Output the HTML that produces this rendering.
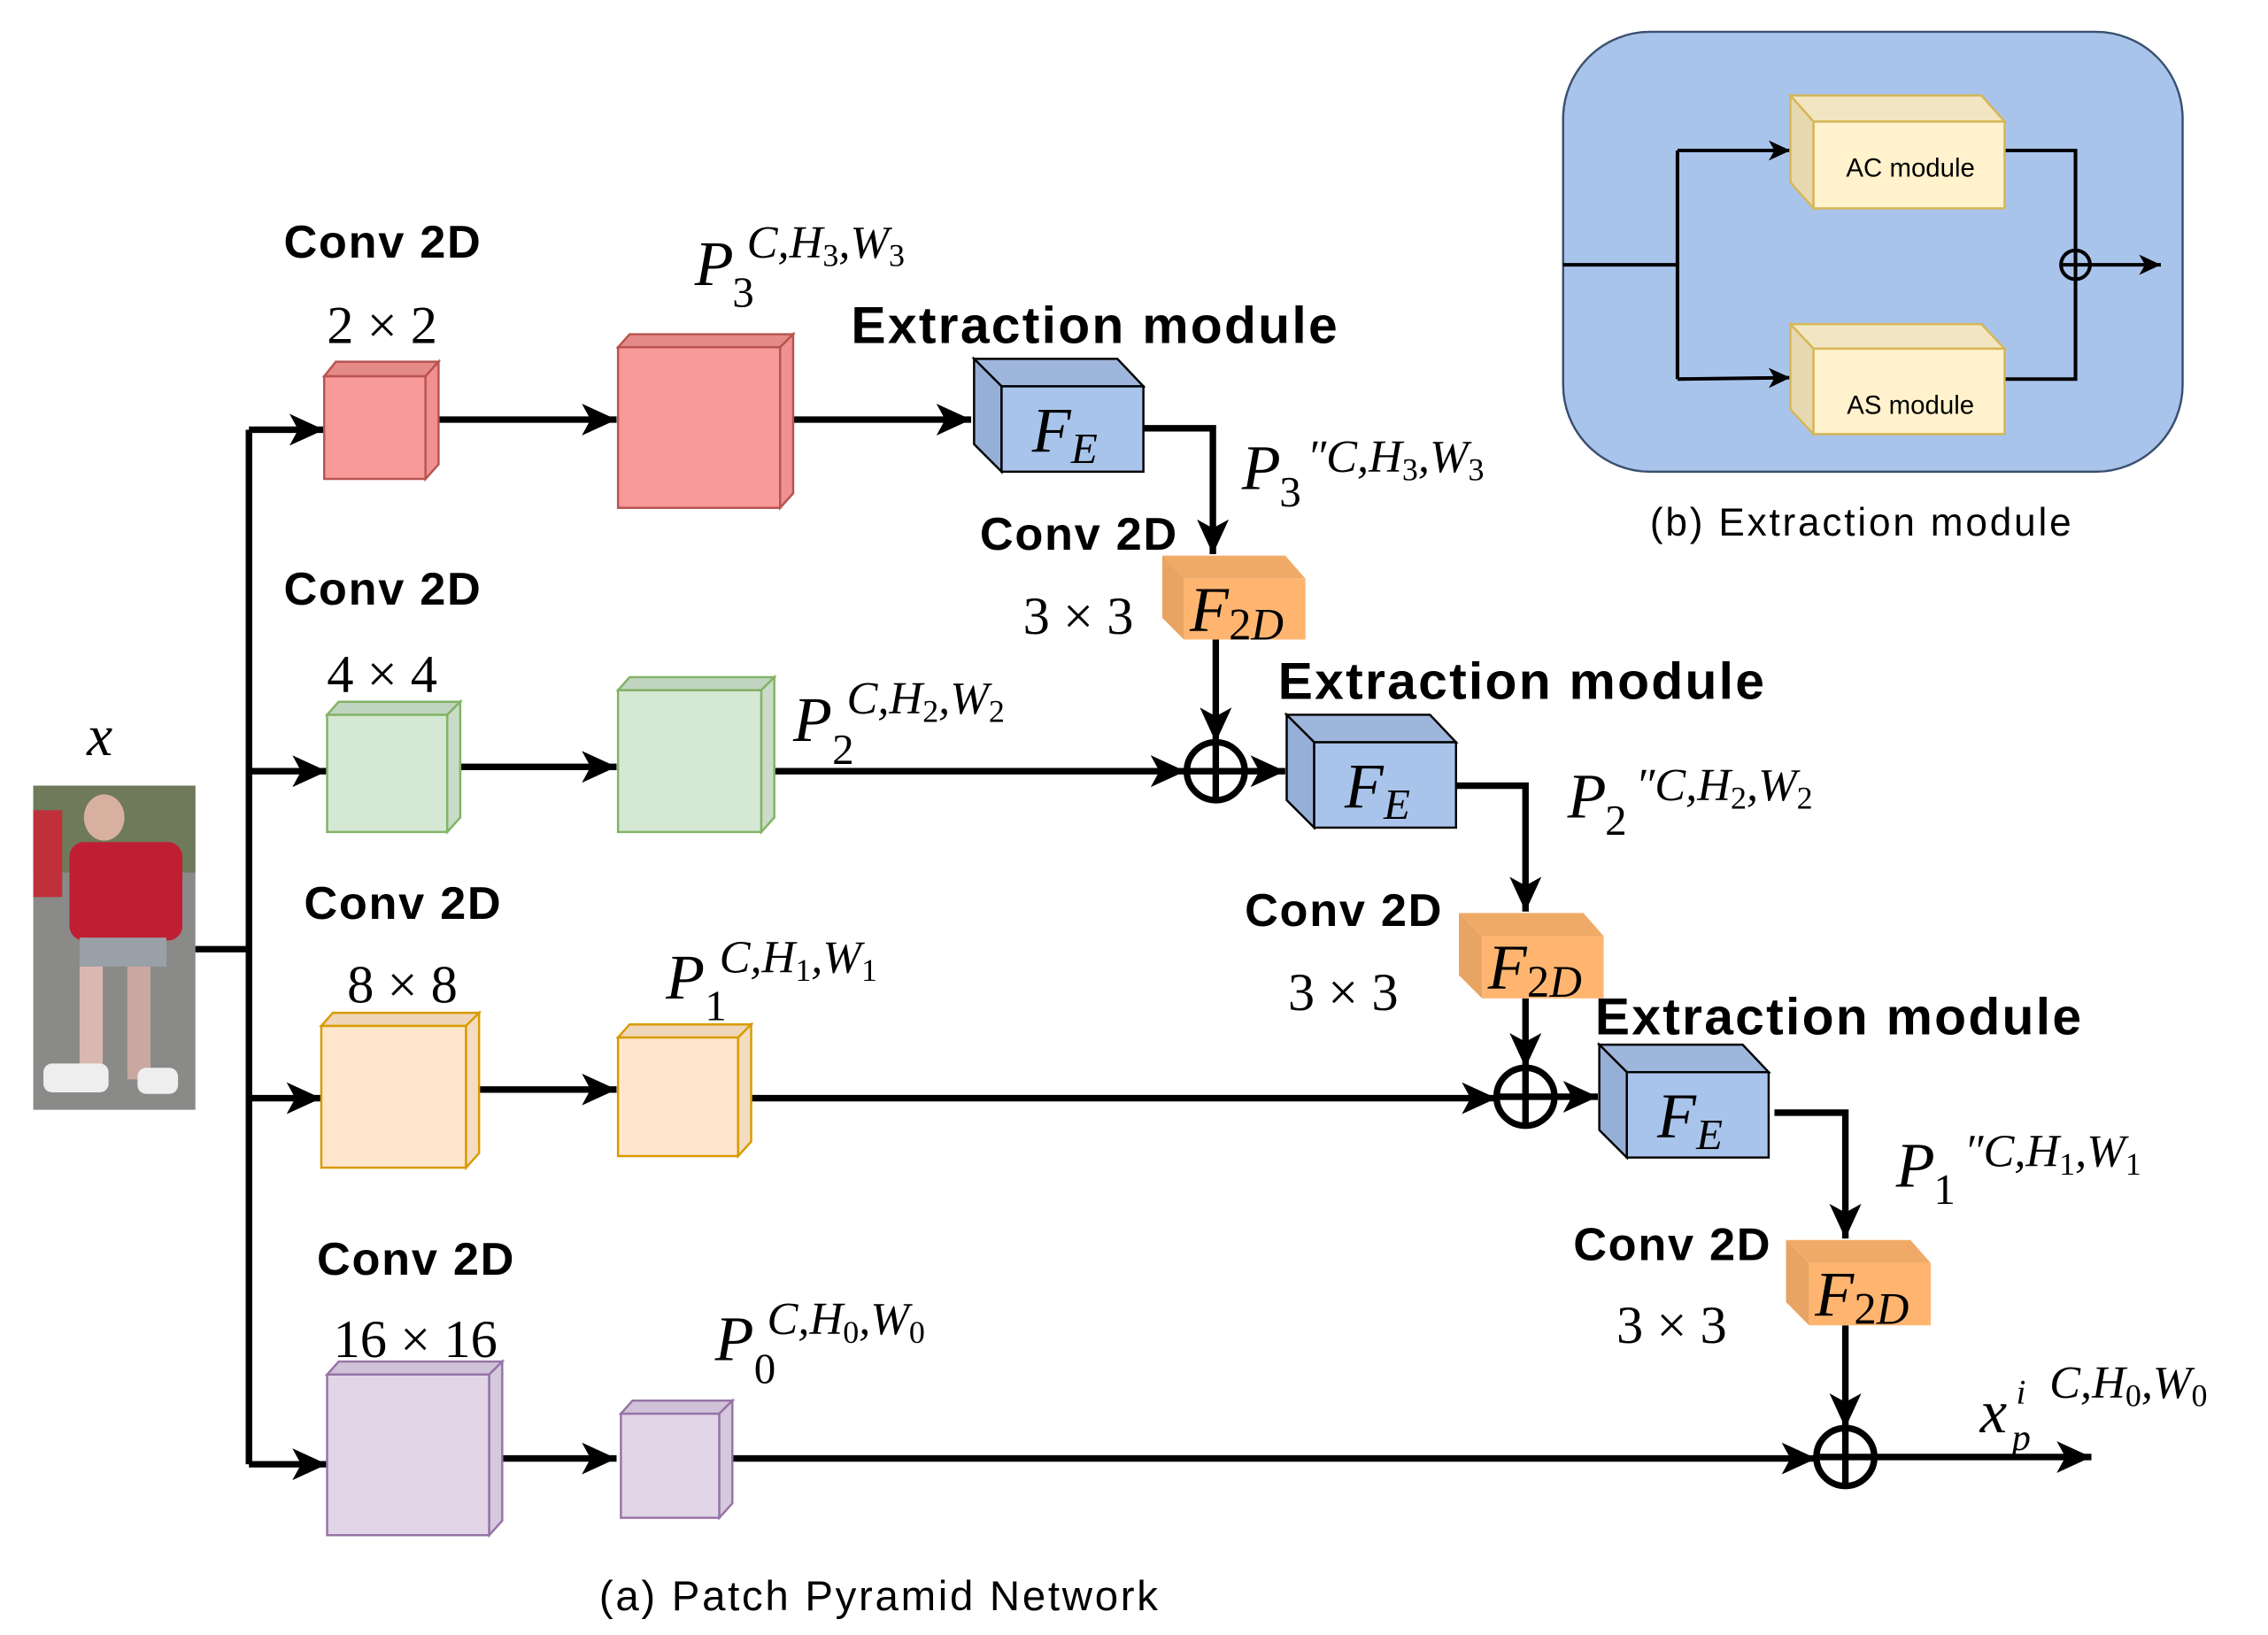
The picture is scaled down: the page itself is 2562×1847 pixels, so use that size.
<!DOCTYPE html>
<html><head><meta charset="utf-8"><style>html,body{margin:0;padding:0;background:#fff}svg{display:block}
.b{font-family:"Liberation Sans",sans-serif;font-weight:bold;font-size:32px}
.m{font-family:"Liberation Serif",serif;font-size:37px}
.i{font-family:"Liberation Serif",serif;font-style:italic}
.r{font-family:"Liberation Sans",sans-serif}
</style></head><body>
<svg width="2562" height="1847" viewBox="0 0 1567 1130" preserveAspectRatio="none" xmlns="http://www.w3.org/2000/svg">
<defs>
<marker id="a" markerUnits="userSpaceOnUse" markerWidth="26" markerHeight="22" refX="24" refY="11" orient="auto"><path d="M0,0 L24,11 L0,22 L6,11 z" fill="#000"/></marker>
<marker id="s" markerUnits="userSpaceOnUse" markerWidth="16" markerHeight="14" refX="15" refY="7" orient="auto"><path d="M0,0 L15,7 L0,14 L4,7 z" fill="#000"/></marker>
</defs>
<rect x="23" y="543" width="112" height="224" fill="#8a8a88"/>
<rect x="23" y="543" width="112" height="60" fill="#6e7a5a"/>
<rect x="23" y="560" width="20" height="60" fill="#c0303a"/>
<rect x="48" y="582" width="78" height="68" fill="#c01e32" rx="10"/>
<ellipse cx="72" cy="565" rx="14" ry="16" fill="#d8b0a0"/>
<rect x="55" y="648" width="60" height="20" fill="#9aa0a8"/>
<rect x="55" y="668" width="16" height="80" fill="#d8b8b0"/>
<rect x="88" y="668" width="16" height="78" fill="#c8a8a0"/>
<rect x="30" y="735" width="45" height="20" fill="#eee" rx="6"/>
<rect x="95" y="738" width="28" height="18" fill="#eee" rx="6"/>
<g stroke="#000" stroke-width="4.5" fill="none">
<polyline points="135,656 172,656"/>
<polyline points="172,297 172,1012"/>
<line x1="172" y1="297" x2="224" y2="297" marker-end="url(#a)"/>
<line x1="172" y1="533" x2="226" y2="533" marker-end="url(#a)"/>
<line x1="172" y1="759" x2="222" y2="759" marker-end="url(#a)"/>
<line x1="172" y1="1012" x2="226" y2="1012" marker-end="url(#a)"/>
<line x1="303" y1="290" x2="426" y2="290" marker-end="url(#a)"/>
<line x1="548" y1="290" x2="671" y2="290" marker-end="url(#a)"/>
<polyline points="790,296 838,296 838,383" marker-end="url(#a)"/>
<line x1="840" y1="442" x2="840" y2="513" marker-end="url(#a)"/>
<line x1="318" y1="530" x2="426" y2="530" marker-end="url(#a)"/>
<line x1="535" y1="533" x2="819" y2="533" marker-end="url(#a)"/>
<line x1="860" y1="533" x2="888" y2="533" marker-end="url(#a)"/>
<polyline points="1006,543 1054,543 1054,630" marker-end="url(#a)"/>
<line x1="1054" y1="690" x2="1054" y2="738" marker-end="url(#a)"/>
<line x1="331" y1="753" x2="426" y2="753" marker-end="url(#a)"/>
<line x1="519" y1="759" x2="1034" y2="759" marker-end="url(#a)"/>
<line x1="1074" y1="758" x2="1104" y2="758" marker-end="url(#a)"/>
<polyline points="1226,769 1275,769 1275,856" marker-end="url(#a)"/>
<line x1="1275" y1="916" x2="1275" y2="987" marker-end="url(#a)"/>
<line x1="347" y1="1008" x2="426" y2="1008" marker-end="url(#a)"/>
<line x1="506" y1="1008" x2="1255" y2="1008" marker-end="url(#a)"/>
<line x1="1295" y1="1007" x2="1445" y2="1007" marker-end="url(#a)"/>
<circle cx="840" cy="533" r="20"/><line x1="820" y1="533" x2="860" y2="533"/><line x1="840" y1="513" x2="840" y2="553"/>
<circle cx="1054" cy="758" r="20"/><line x1="1034" y1="758" x2="1074" y2="758"/><line x1="1054" y1="738" x2="1054" y2="778"/>
<circle cx="1275" cy="1007" r="20"/><line x1="1255" y1="1007" x2="1295" y2="1007"/><line x1="1275" y1="987" x2="1275" y2="1027"/>
</g>
<g stroke-width="1.5">
<g stroke="#b85450"><rect x="224" y="260" width="70" height="71" fill="#f99a9a"/><polygon points="224,260 232,250 303,250 294,260" fill="#e48a87"/><polygon points="294,260 303,250 303,321 294,331" fill="#f09090"/>
<rect x="427" y="240" width="112" height="111" fill="#f99a9a"/><polygon points="427,240 435,231 548,231 539,240" fill="#e48a87"/><polygon points="539,240 548,231 548,341 539,351" fill="#f09090"/></g>
<g stroke="#82b366"><rect x="226" y="494" width="83" height="81" fill="#d5e8d4"/><polygon points="226,494 234,485 318,485 309,494" fill="#c0d4bf"/><polygon points="309,494 318,485 318,565 309,575" fill="#c8dcc7"/>
<rect x="427" y="477" width="99" height="98" fill="#d5e8d4"/><polygon points="427,477 435,468 535,468 526,477" fill="#c0d4bf"/><polygon points="526,477 535,468 535,565 526,575" fill="#c8dcc7"/></g>
<g stroke="#d79b00"><rect x="222" y="709" width="100" height="98" fill="#ffe6cc"/><polygon points="222,709 230,700 331,700 322,709" fill="#f0d6b8"/><polygon points="322,709 331,700 331,797 322,807" fill="#f5dcc0"/>
<rect x="427" y="717" width="83" height="82" fill="#ffe6cc"/><polygon points="427,717 435,708 519,708 510,717" fill="#f0d6b8"/><polygon points="510,717 519,708 519,789 510,799" fill="#f5dcc0"/></g>
<g stroke="#9673a6"><rect x="226" y="950" width="112" height="111" fill="#e1d5e7"/><polygon points="226,950 234,941 347,941 338,950" fill="#d0c2d8"/><polygon points="338,950 347,941 347,1051 338,1061" fill="#d6c8dd"/>
<rect x="429" y="977" width="68" height="72" fill="#e1d5e7"/><polygon points="429,977 437,968 506,968 497,977" fill="#d0c2d8"/><polygon points="497,977 506,968 506,1039 497,1049" fill="#d6c8dd"/></g>
<g stroke="#000" stroke-width="1.5">
<polygon points="673,248 772,248 790,267 692,267" fill="#9fb6dc"/><polygon points="673,248 692,267 692,326 673,307" fill="#96afd6"/><rect x="692" y="267" width="98" height="59" fill="#a9c4eb"/>
<polygon points="889,494 988,494 1006,513 908,513" fill="#9fb6dc"/><polygon points="889,494 908,513 908,572 889,553" fill="#96afd6"/><rect x="908" y="513" width="98" height="59" fill="#a9c4eb"/>
<polygon points="1105,722 1204,722 1222,741 1124,741" fill="#9fb6dc"/><polygon points="1105,722 1124,741 1124,800 1105,781" fill="#96afd6"/><rect x="1124" y="741" width="98" height="59" fill="#a9c4eb"/>
</g>
<g stroke="none">
<polygon points="803,384 888,384 902,400 818,400" fill="#f0aa68"/><polygon points="803,384 818,400 818,442 803,427" fill="#e8a462"/><rect x="818" y="400" width="84" height="42" fill="#ffb570"/>
<polygon points="1008,631 1094,631 1108,647 1024,647" fill="#f0aa68"/><polygon points="1008,631 1024,647 1024,690 1008,674" fill="#e8a462"/><rect x="1024" y="647" width="84" height="43" fill="#ffb570"/>
<polygon points="1234,857 1320,857 1334,873 1250,873" fill="#f0aa68"/><polygon points="1234,857 1250,873 1250,916 1234,900" fill="#e8a462"/><rect x="1250" y="873" width="84" height="43" fill="#ffb570"/>
</g>
</g>
<g class="b">
<text x="196" y="178" textLength="136">Conv 2D</text><text x="196" y="418" textLength="136">Conv 2D</text><text x="210" y="635" textLength="136">Conv 2D</text><text x="219" y="881" textLength="136">Conv 2D</text>
<text x="677" y="380" textLength="136">Conv 2D</text><text x="860" y="640" textLength="136">Conv 2D</text><text x="1087" y="871" textLength="136">Conv 2D</text>
</g>
<g class="m" text-anchor="middle">
<text x="264" y="237">2 × 2</text><text x="264" y="478">4 × 4</text><text x="278" y="693">8 × 8</text><text x="287" y="938">16 × 16</text>
<text x="745" y="438">3 × 3</text><text x="928" y="698">3 × 3</text><text x="1155" y="928">3 × 3</text>
</g>
<g class="b" style="font-size:36px"><text x="588" y="237" textLength="336">Extraction module</text><text x="883" y="483" textLength="336">Extraction module</text><text x="1102" y="715" textLength="336">Extraction module</text></g>
<g class="i">
<text x="60" y="522" font-size="40">x</text>
<text x="480" y="197" font-size="44">P</text><text x="506" y="212" font-size="30" style="font-style:normal">3</text><text x="516" y="178" font-size="32">C,H<tspan font-size="22" dy="6" style="font-style:normal">3</tspan><tspan dy="-6">,W</tspan><tspan font-size="22" dy="6" style="font-style:normal">3</tspan></text>
<text x="548" y="512" font-size="44">P</text><text x="575" y="528" font-size="30" style="font-style:normal">2</text><text x="585" y="493" font-size="32">C,H<tspan font-size="22" dy="6" style="font-style:normal">2</tspan><tspan dy="-6">,W</tspan><tspan font-size="22" dy="6" style="font-style:normal">2</tspan></text>
<text x="460" y="690" font-size="44">P</text><text x="487" y="705" font-size="30" style="font-style:normal">1</text><text x="497" y="672" font-size="32">C,H<tspan font-size="22" dy="6" style="font-style:normal">1</tspan><tspan dy="-6">,W</tspan><tspan font-size="22" dy="6" style="font-style:normal">1</tspan></text>
<text x="494" y="940" font-size="44">P</text><text x="521" y="956" font-size="30" style="font-style:normal">0</text><text x="530" y="922" font-size="32">C,H<tspan font-size="22" dy="6" style="font-style:normal">0</tspan><tspan dy="-6">,W</tspan><tspan font-size="22" dy="6" style="font-style:normal">0</tspan></text>
<text x="858" y="338" font-size="44">P</text><text x="884" y="350" font-size="30" style="font-style:normal">3</text><text x="903" y="326" font-size="32">″C,H<tspan font-size="22" dy="6" style="font-style:normal">3</tspan><tspan dy="-6">,W</tspan><tspan font-size="22" dy="6" style="font-style:normal">3</tspan></text>
<text x="1083" y="565" font-size="44">P</text><text x="1109" y="577" font-size="30" style="font-style:normal">2</text><text x="1130" y="553" font-size="32">″C,H<tspan font-size="22" dy="6" style="font-style:normal">2</tspan><tspan dy="-6">,W</tspan><tspan font-size="22" dy="6" style="font-style:normal">2</tspan></text>
<text x="1310" y="820" font-size="44">P</text><text x="1336" y="832" font-size="30" style="font-style:normal">1</text><text x="1357" y="806" font-size="32">″C,H<tspan font-size="22" dy="6" style="font-style:normal">1</tspan><tspan dy="-6">,W</tspan><tspan font-size="22" dy="6" style="font-style:normal">1</tspan></text>
<text x="1368" y="990" font-size="42">x</text><text x="1390" y="1002" font-size="26">p</text><text x="1393" y="970" font-size="24">i</text><text x="1416" y="966" font-size="32">C,H<tspan font-size="22" dy="6" style="font-style:normal">0</tspan><tspan dy="-6">,W</tspan><tspan font-size="22" dy="6" style="font-style:normal">0</tspan></text>
<text x="713" y="312" font-size="44">F</text><text x="740" y="320" font-size="30">E</text>
<text x="929" y="558" font-size="44">F</text><text x="956" y="566" font-size="30">E</text>
<text x="1145" y="786" font-size="44">F</text><text x="1172" y="794" font-size="30">E</text>
<text x="822" y="436" font-size="44">F</text><text x="849" y="442" font-size="31"><tspan style="font-style:normal">2</tspan>D</text>
<text x="1028" y="683" font-size="44">F</text><text x="1055" y="689" font-size="31"><tspan style="font-style:normal">2</tspan>D</text>
<text x="1254" y="909" font-size="44">F</text><text x="1281" y="915" font-size="31"><tspan style="font-style:normal">2</tspan>D</text>
</g>
<text class="r" x="414" y="1113" font-size="29" textLength="386">(a)  Patch Pyramid Network</text>
<rect x="1080" y="22" width="428" height="304" rx="60" fill="#a9c4eb" stroke="#3a5070" stroke-width="1.5"/>
<g stroke="#000" stroke-width="2.5" fill="none">
<polyline points="1080,183 1159,183"/>
<polyline points="1159,104 1159,262"/>
<line x1="1159" y1="104" x2="1237" y2="104" marker-end="url(#s)"/>
<line x1="1159" y1="262" x2="1237" y2="261" marker-end="url(#s)"/>
<polyline points="1385,104 1434,104 1434,262 1385,262"/>
<line x1="1444" y1="183" x2="1493" y2="183" marker-end="url(#s)"/>
</g>
<circle cx="1434" cy="183" r="10" fill="#a9c4eb" stroke="#000" stroke-width="2.5"/>
<line x1="1424" y1="183" x2="1444" y2="183" stroke="#000" stroke-width="2.5"/><line x1="1434" y1="173" x2="1434" y2="193" stroke="#000" stroke-width="2.5"/>
<g stroke="#d6b656" stroke-width="1.5">
<polygon points="1237,66 1369,66 1385,84 1253,84" fill="#f2e6c2"/><polygon points="1237,66 1253,84 1253,144 1237,126" fill="#e6d8b0"/><rect x="1253" y="84" width="132" height="60" fill="#fff2cc"/>
<polygon points="1237,224 1369,224 1385,241 1253,241" fill="#f2e6c2"/><polygon points="1237,224 1253,241 1253,300 1237,283" fill="#e6d8b0"/><rect x="1253" y="241" width="132" height="59" fill="#fff2cc"/>
</g>
<text class="r" x="1320" y="122" font-size="18" text-anchor="middle">AC module</text>
<text class="r" x="1320" y="286" font-size="18" text-anchor="middle">AS module</text>
<text class="r" x="1140" y="370" font-size="27" textLength="291">(b)  Extraction module</text>
</svg>
</body></html>
